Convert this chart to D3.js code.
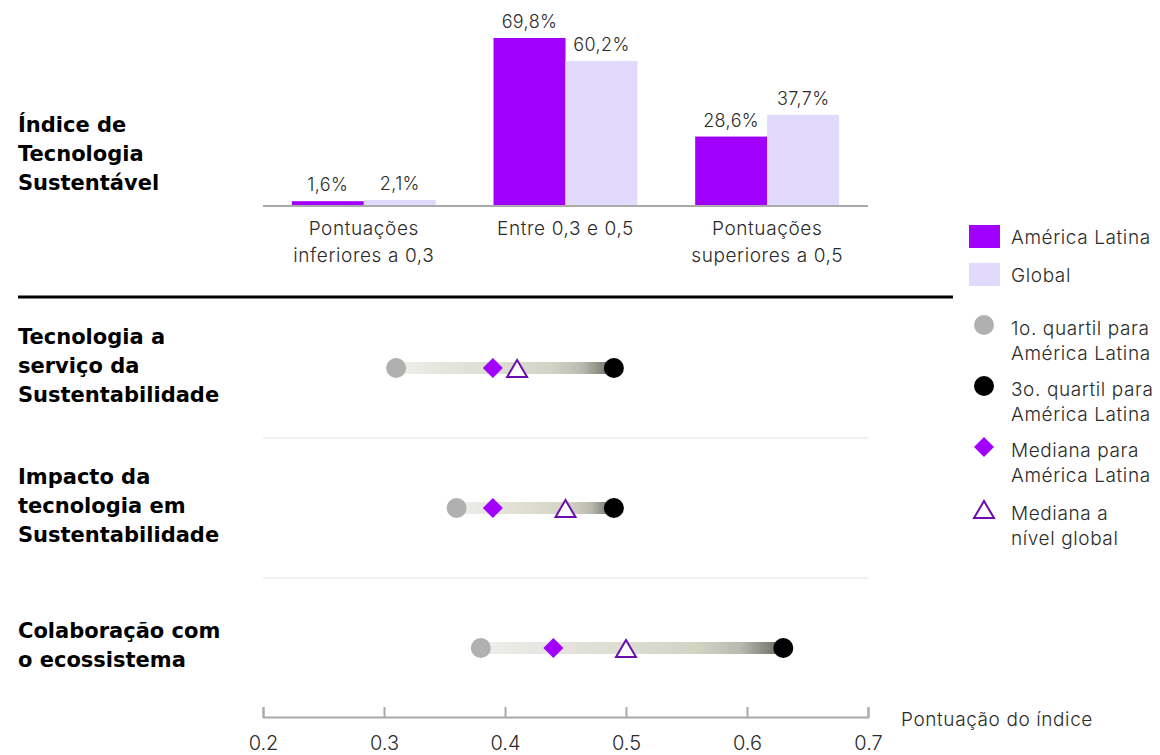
<!DOCTYPE html>
<html>
<head>
<meta charset="utf-8">
<script src="https://cdn.jsdelivr.net/npm/d3@7"></script>
<style>
  html, body { margin: 0; padding: 0; background: #fff; }
  svg { display: block; font-family: Inter, "Noto Sans", sans-serif; font-weight: 300; }
</style>
</head>
<body>
<svg id="chart" width="1160" height="755"></svg>
<script>
// Distribution of the Sustainable Technology Index
const barCategories = [["Pontuações", "inferiores a 0,3"], ["Entre 0,3 e 0,5"], ["Pontuações", "superiores a 0,5"]];
const barSeries = ["América Latina", "Global"];
const latamShare = [1.6, 69.8, 28.6];
const globalShare = [2.1, 60.2, 37.7];

// Component scores: quartiles and medians
const componentLabels = [
  ["Tecnologia a", "serviço da", "Sustentabilidade"],
  ["Impacto da", "tecnologia em", "Sustentabilidade"],
  ["Colaboração com", "o ecossistema"]
];
const q1Latam = [0.31, 0.36, 0.38];
const q3Latam = [0.49, 0.49, 0.63];
const medianLatam = [0.39, 0.39, 0.44];
const medianGlobal = [0.41, 0.45, 0.50];
const xTicks = [0.2, 0.3, 0.4, 0.5, 0.6, 0.7];

const C = { latam: "#a100ff", global: "#e2dafd", q1: "#b0b0b0", q3: "#000", tri: "#6a0fae", text: "#2b2b2b" };
const LS = "0.6px";

const svg = d3.select("#chart");

// ---------- Bar section ----------
const xGroup = d3.scaleBand().domain(d3.range(barCategories.length)).range([263, 868]).paddingInner(0.286).paddingOuter(0.143);
const xSeries = d3.scaleBand().domain(barSeries).range([0, xGroup.bandwidth()]);
const yBar = d3.scaleLinear().domain([0, 70]).range([205, 37.5]);

const barData = [];
barCategories.forEach((c, i) => {
  barData.push({ i, s: barSeries[0], v: latamShare[i], color: C.latam });
  barData.push({ i, s: barSeries[1], v: globalShare[i], color: C.global });
});

const bars = svg.append("g");
bars.selectAll("rect").data(barData).join("rect")
  .attr("x", d => xGroup(d.i) + xSeries(d.s))
  .attr("width", xSeries.bandwidth())
  .attr("y", d => yBar(d.v))
  .attr("height", d => yBar(0) - yBar(d.v))
  .attr("fill", d => d.color);

bars.selectAll("text.val").data(barData).join("text")
  .attr("class", "val")
  .attr("x", d => xGroup(d.i) + xSeries(d.s) + xSeries.bandwidth() / 2)
  .attr("y", d => yBar(d.v) - 10)
  .attr("text-anchor", "middle")
  .attr("font-size", 18)
  .attr("letter-spacing", "0.4px")
  .attr("fill", C.text)
  .text(d => d.v.toFixed(1).replace(".", ",") + "%");

svg.append("line").attr("x1", 263).attr("x2", 868).attr("y1", yBar(0) + 1).attr("y2", yBar(0) + 1)
  .attr("stroke", "#aaa").attr("stroke-width", 2);

barCategories.forEach((lines, i) => {
  const t = svg.append("text").attr("text-anchor", "middle").attr("font-size", 19)
    .attr("letter-spacing", LS).attr("fill", C.text);
  lines.forEach((l, k) => t.append("tspan").attr("x", xGroup(i) + xGroup.bandwidth() / 2).attr("y", 235 + k * 27).text(l));
});

function boldLabel(lines, y0) {
  const t = svg.append("text").attr("font-family", "'DejaVu Sans', sans-serif")
    .attr("font-size", 21).attr("font-weight", 700).attr("fill", "#000");
  lines.forEach((l, k) => t.append("tspan").attr("x", 18).attr("y", y0 + k * 29).text(l));
}
boldLabel(["Índice de", "Tecnologia", "Sustentável"], 132);

// Divider between the two sections
svg.append("line").attr("x1", 18).attr("x2", 953).attr("y1", 297).attr("y2", 297).attr("stroke", "#000").attr("stroke-width", 3);

// ---------- Dumbbell section ----------
const x = d3.scaleLinear().domain([0.2, 0.7]).range([263, 868]);
const yRow = d3.scaleBand().domain(d3.range(componentLabels.length)).range([298, 718]);
const rowC = i => yRow(i) + yRow.bandwidth() / 2;

// Separators between rows
svg.append("g").selectAll("line").data(d3.range(1, componentLabels.length)).join("line")
  .attr("x1", 263).attr("x2", 868).attr("y1", i => yRow(i)).attr("y2", i => yRow(i))
  .attr("stroke", "#e2e2e2").attr("stroke-width", 1);

const defs = svg.append("defs");
componentLabels.forEach((lbl, i) => {
  const g = defs.append("linearGradient").attr("id", "grad" + i)
    .attr("gradientUnits", "userSpaceOnUse")
    .attr("x1", x(q1Latam[i])).attr("x2", x(q3Latam[i])).attr("y1", 0).attr("y2", 0);
  g.append("stop").attr("offset", "0%").attr("stop-color", "#eeeeeb");
  g.append("stop").attr("offset", "72%").attr("stop-color", "#d3d3c4");
  g.append("stop").attr("offset", "86%").attr("stop-color", "#b8b8ae");
  g.append("stop").attr("offset", "100%").attr("stop-color", "#66665f");
});

const rows = svg.append("g").selectAll("g").data(d3.range(componentLabels.length)).join("g");
rows.append("rect")
  .attr("x", i => x(q1Latam[i])).attr("width", i => x(q3Latam[i]) - x(q1Latam[i]))
  .attr("y", i => rowC(i) - 6).attr("height", 12)
  .attr("fill", i => `url(#grad${i})`);
rows.append("circle").attr("cx", i => x(q1Latam[i])).attr("cy", rowC).attr("r", 10).attr("fill", C.q1);
rows.append("circle").attr("cx", i => x(q3Latam[i])).attr("cy", rowC).attr("r", 10).attr("fill", C.q3);

const diamond = d3.symbol().type(d3.symbolSquare).size(200);
const triangle = "M0,-9L10,8L-10,8Z";
rows.append("path").attr("d", diamond)
  .attr("transform", i => `translate(${x(medianLatam[i])},${rowC(i)}) rotate(45)`)
  .attr("fill", C.latam);
rows.append("path").attr("d", triangle)
  .attr("transform", i => `translate(${x(medianGlobal[i])},${rowC(i) + 1})`)
  .attr("fill", "#fff").attr("stroke", C.tri).attr("stroke-width", 2);

componentLabels.forEach((lbl, i) => boldLabel(lbl, rowC(i) - 24 + (lbl.length === 2 ? 14 : 0)));

// X axis
const axis = svg.append("g").attr("transform", "translate(0,717)")
  .call(d3.axisBottom(x).tickValues(xTicks).tickSize(-10).tickPadding(19).tickFormat(d3.format(".1f")));
axis.select(".domain").attr("stroke", "#aaa").attr("stroke-width", 2);
axis.selectAll(".tick line").attr("stroke", "#aaa").attr("stroke-width", 2);
axis.selectAll(".tick text").attr("font-size", 20).attr("fill", C.text)
  .attr("font-family", "Inter, sans-serif").attr("font-weight", 300);
svg.append("text").attr("x", 901).attr("y", 726).attr("font-size", 19).attr("letter-spacing", LS)
  .attr("fill", C.text).text("Pontuação do índice");

// ---------- Legend ----------
const leg = svg.append("g").attr("font-size", 19).attr("letter-spacing", LS).attr("fill", C.text);
[[barSeries[0], C.latam, 225], [barSeries[1], C.global, 263]].forEach(([name, col, y]) => {
  leg.append("rect").attr("x", 969).attr("y", y).attr("width", 31).attr("height", 23).attr("fill", col);
  leg.append("text").attr("x", 1011).attr("y", y + 19).text(name);
});
const legItems = [
  { lines: ["1o. quartil para", "América Latina"], y: 325, kind: "q1" },
  { lines: ["3o. quartil para", "América Latina"], y: 386, kind: "q3" },
  { lines: ["Mediana para", "América Latina"], y: 447, kind: "med" },
  { lines: ["Mediana a", "nível global"], y: 510, kind: "tri" }
];
legItems.forEach(it => {
  if (it.kind === "q1" || it.kind === "q3") {
    leg.append("circle").attr("cx", 984).attr("cy", it.y).attr("r", 10).attr("fill", it.kind === "q1" ? C.q1 : C.q3);
  } else if (it.kind === "med") {
    leg.append("path").attr("d", diamond).attr("transform", `translate(984,${it.y}) rotate(45)`).attr("fill", C.latam);
  } else {
    leg.append("path").attr("d", triangle).attr("transform", `translate(984,${it.y})`).attr("fill", "#fff").attr("stroke", C.tri).attr("stroke-width", 2);
  }
  const t = leg.append("text");
  it.lines.forEach((l, k) => t.append("tspan").attr("x", 1011).attr("y", it.y + 10 + k * 25).text(l));
});
</script>
</body>
</html>
